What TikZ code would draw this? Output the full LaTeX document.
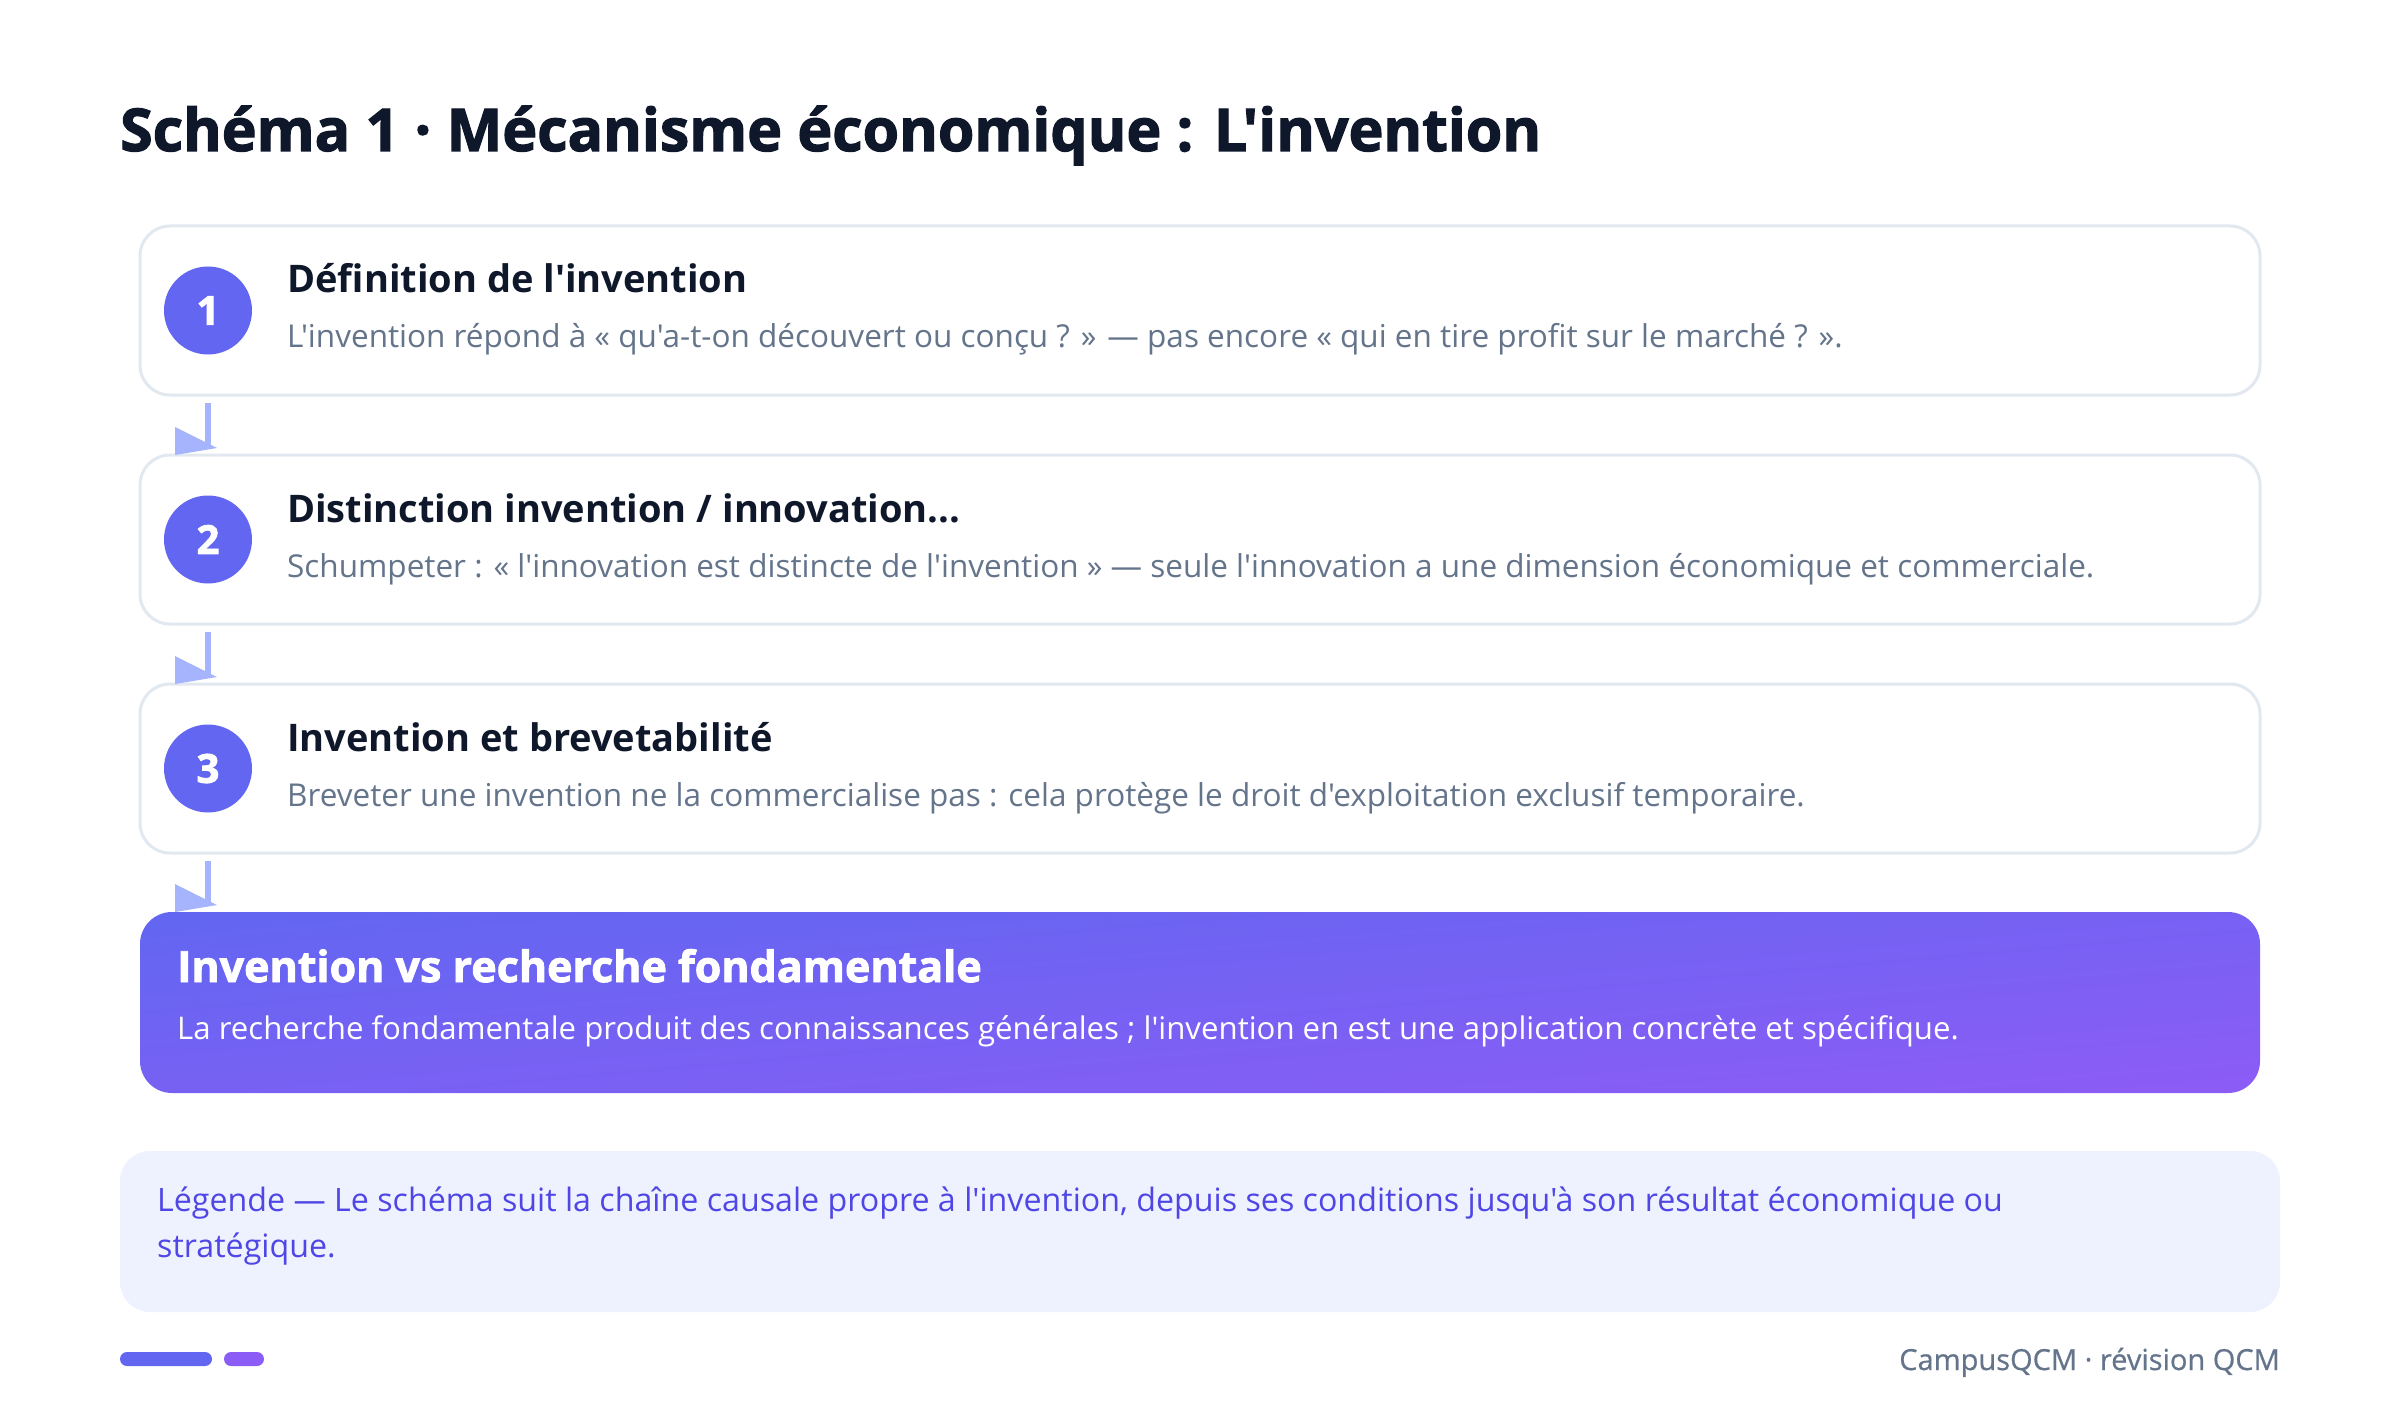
\documentclass[tikz,border=0pt]{standalone}
\usepackage{fontspec}
\newfontfamily\osans{Open Sans}
\newfontfamily\heavy{Open Sans}[BoldFeatures={FakeBold=2}]
\newfontfamily\semi{Open Sans}[FakeBold=0.6]
\usetikzlibrary{calc}
\definecolor{ink}{HTML}{0F172A}
\definecolor{slate}{HTML}{64748B}
\definecolor{edgec}{HTML}{E2E8F0}
\definecolor{indigo}{HTML}{6366F1}
\definecolor{violet}{HTML}{8B5CF6}
\definecolor{arrowc}{HTML}{A5B4FC}
\definecolor{legbg}{HTML}{EEF2FF}
\definecolor{legtxt}{HTML}{4F46E5}
\begin{document}
\begin{tikzpicture}[x=1pt,y=-1pt,
  card/.style={draw=edgec, line width=3pt, fill=white, rounded corners=30pt,
    minimum width=2120pt, minimum height=169pt, anchor=north west, inner sep=0pt, outer sep=0pt},
  hicard/.style={draw=none, rounded corners=32pt, top color=indigo, bottom color=violet, shading angle=5,
    minimum width=2120pt, minimum height=181pt, anchor=north west, inner sep=0pt, outer sep=0pt},
  badge/.style={circle, fill=indigo, minimum size=88pt, inner sep=0pt, text=white,
    font=\heavy\bfseries\fontsize{40}{40}\selectfont},
  ctitle/.style={anchor=base west, inner sep=0pt, text=ink, font=\osans\bfseries\fontsize{38}{44}\selectfont},
  cbody/.style={anchor=base west, inner sep=0pt, text=slate, font=\osans\fontsize{31.5}{36}\selectfont},
  link/.style={draw=arrowc, line width=6pt},
  tipc/.style={fill=arrowc}]
\fill[white] (0,0) rectangle (2400,1420);
\useasboundingbox (0,0) rectangle (2400,1420);

\node[anchor=base west, inner sep=0pt, text=ink, font=\heavy\bfseries\fontsize{59}{64}\selectfont] (title) at (120,151)
  {Schéma 1 · Mécanisme économique : L'invention};

\node[card] (c1) at (140,226) {};
\node[card] (c2) at (140,455) {};
\node[card] (c3) at (140,684) {};
\node[hicard] (c4) at (140,912) {};

\node[badge] (b1) at ([xshift=68pt]c1.west) {1};
\node[badge] (b2) at ([xshift=68pt]c2.west) {2};
\node[badge] (b3) at ([xshift=68pt]c3.west) {3};

\node[ctitle] (t1) at ([xshift=147pt,yshift=-67pt]c1.north west) {Définition de l'invention};
\node[cbody] (d1) at ([xshift=147pt,yshift=-122pt]c1.north west) {L'invention répond à « qu'a-t-on découvert ou conçu ? » — pas encore « qui en tire profit sur le marché ? ».};
\node[ctitle] (t2) at ([xshift=147pt,yshift=-67pt]c2.north west) {Distinction invention / innovation...};
\node[cbody] (d2) at ([xshift=147pt,yshift=-122pt]c2.north west) {Schumpeter : « l'innovation est distincte de l'invention » — seule l'innovation a une dimension économique et commerciale.};
\node[ctitle] (t3) at ([xshift=147pt,yshift=-67pt]c3.north west) {Invention et brevetabilité};
\node[cbody] (d3) at ([xshift=147pt,yshift=-122pt]c3.north west) {Breveter une invention ne la commercialise pas : cela protège le droit d'exploitation exclusif temporaire.};
\node[ctitle, text=white, font=\heavy\bfseries\fontsize{43}{46}\selectfont] (t4) at ([xshift=37pt,yshift=-70pt]c4.north west) {Invention vs recherche fondamentale};
\node[cbody, text=white, font=\osans\fontsize{31.2}{36}\selectfont] (d4) at ([xshift=37pt,yshift=-127pt]c4.north west) {La recherche fondamentale produit des connaissances générales ; l'invention en est une application concrète et spécifique.};

\foreach \a/\b in {c1/c2,c2/c3,c3/c4}{
  \draw[link] ([xshift=68pt,yshift=-8pt]\a.south west) -- ([xshift=68pt,yshift=8pt]\b.north west);
  \fill[tipc] ([xshift=35pt,yshift=28pt]\b.north west) -- ([xshift=35pt,yshift=0pt]\b.north west)
     -- ([xshift=77pt,yshift=7pt]\b.north west) -- cycle;
}

\node[fill=legbg, rounded corners=30pt, minimum width=2160pt, minimum height=161pt, anchor=north west,
  inner sep=0pt, outer sep=0pt] (leg) at (120,1151) {};
\node[cbody, text=legtxt, font=\osans\fontsize{32.2}{36}\selectfont] (l1) at ([xshift=37pt,yshift=-60pt]leg.north west) {Légende — Le schéma suit la chaîne causale propre à l'invention, depuis ses conditions jusqu'à son résultat économique ou};
\node[cbody, text=legtxt, font=\osans\fontsize{32.2}{36}\selectfont] (l2) at ([xshift=37pt,yshift=-106pt]leg.north west) {stratégique.};

\fill[indigo, rounded corners=7pt] (120,1352) rectangle (212,1366);
\fill[violet, rounded corners=7pt] (224,1352) rectangle (264,1366);
\node[anchor=base east, inner sep=0pt, text=slate, font=\semi\fontsize{29}{32}\selectfont] (foot) at (2280,1370) {CampusQCM · révision QCM};
\end{tikzpicture}
\end{document}
